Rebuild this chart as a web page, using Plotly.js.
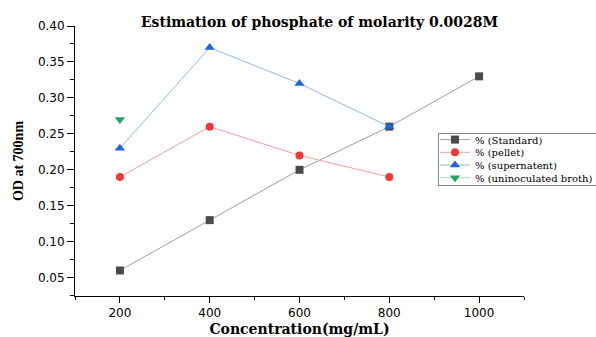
<!DOCTYPE html>
<html><head><meta charset="utf-8">
<script src="https://cdn.plot.ly/plotly-3.0.1.min.js"></script>
<style>body{margin:0;background:#fff}#g{width:596px;height:337px}</style>
</head><body><div id="g"></div>
<script>
const conc = [200, 400, 600, 800, 1000];
const standard = [0.06, 0.13, 0.20, 0.26, 0.33];
const concPS = [200, 400, 600, 800];
const pellet = [0.19, 0.26, 0.22, 0.19];
const supernatent = [0.23, 0.37, 0.32, 0.26];
const concU = [200];
const uninoculated = [0.27];
const xTicks = [200, 400, 600, 800, 1000];
const yTicks = [0.05, 0.10, 0.15, 0.20, 0.25, 0.30, 0.35, 0.40];

const traces = [
  {x: conc, y: standard, name: '% (Standard)', mode: 'lines+markers',
   line: {color: '#a0a0a0', width: 1}, marker: {symbol: 'square', size: 8, color: '#4a4a4a'}},
  {x: concPS, y: pellet, name: '% (pellet)', mode: 'lines+markers',
   line: {color: '#f4a0a0', width: 1}, marker: {symbol: 'circle', size: 8, color: '#f03838'}},
  {x: concPS, y: supernatent, name: '% (supernatent)', mode: 'lines+markers',
   line: {color: '#90b8f0', width: 1}, marker: {symbol: 'triangle-up', size: 9, color: '#1f64dc'}},
  {x: concU, y: uninoculated, name: '% (uninoculated broth)', mode: 'lines+markers',
   line: {color: '#a8e0c0', width: 1}, marker: {symbol: 'triangle-down', size: 9, color: '#28a060'}}
];
const serif = 'Liberation Serif, Times New Roman, serif';
const wideSerif = 'DejaVu Serif, serif';
const sans = 'DejaVu Sans, sans-serif';
const layout = {
  width: 596, height: 337,
  margin: {l: 75, r: 72, t: 26, b: 41, autoexpand: false},
  paper_bgcolor: '#fff', plot_bgcolor: '#fff',
  showlegend: true,
  title: {text: '<b>Estimation of phosphate of molarity 0.0028M</b>', font: {family: wideSerif, size: 14, color: '#000'},
          x: 0.536, xanchor: 'center', y: 0.935, yanchor: 'middle'},
  xaxis: {range: [100, 1100], tickvals: xTicks, ticks: 'outside', ticklen: 6, tickcolor: '#000',
          showline: true, linecolor: '#000', linewidth: 1, showgrid: false, zeroline: false,
          minor: {dtick: 100, ticks: 'outside', ticklen: 3, tickcolor: '#000'},
          tickfont: {family: sans, size: 12, color: '#000'},
          title: {text: '<b>Concentration(mg/mL)</b>', font: {family: wideSerif, size: 14, color: '#000'}, standoff: 9}},
  yaxis: {range: [0.0245, 0.40], tickvals: yTicks, ticktext: yTicks.map(v => v.toFixed(2)),
          ticks: 'outside', ticklen: 7, tickcolor: '#000',
          showline: true, linecolor: '#000', linewidth: 1, showgrid: false, zeroline: false,
          minor: {dtick: 0.025, ticks: 'outside', ticklen: 4, tickcolor: '#000'},
          tickfont: {family: sans, size: 12, color: '#000'},
          title: {text: '<b>OD at 700nm</b>', font: {family: serif, size: 14, color: '#000'}, standoff: 10}},
  legend: {x: 0.8085, y: 0.6037, xanchor: 'left', yanchor: 'top', bgcolor: '#fff',
           bordercolor: '#888', borderwidth: 1, font: {family: wideSerif, size: 10, color: '#000'},
           tracegroupgap: 0, itemwidth: 30}
};
const gd = document.getElementById('g');
Plotly.newPlot(gd, traces, layout, {displayModeBar: false, staticPlot: true}).then(() => {
  const items = gd.querySelectorAll('.legend .traces');
  const step = 12.7, first = 6.6;
  items.forEach((el, i) => {
    const m = /translate\(\s*([-\d.e]+)[\s,]+([-\d.e]+)\s*\)/.exec(el.getAttribute('transform') || '');
    const tx = (m ? parseFloat(m[1]) : 1) - 4;
    el.setAttribute('transform', 'translate(' + tx + ',' + (first + i * step) + ')');
  });
  const bg = gd.querySelector('.legend rect.bg');
  if (bg) bg.setAttribute('height', (first * 2 + (items.length - 1) * step + 1).toFixed(1));
});
</script></body></html>
